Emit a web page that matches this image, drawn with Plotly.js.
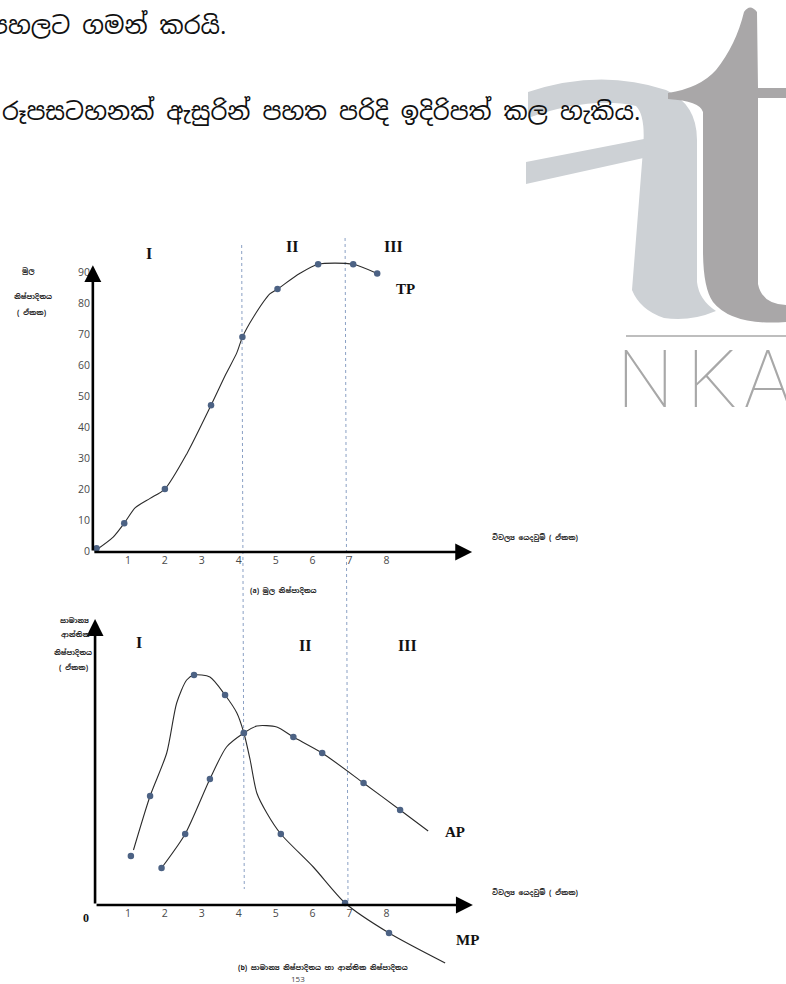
<!DOCTYPE html>
<html>
<head>
<meta charset="utf-8">
<script src="https://cdn.plot.ly/plotly-3.0.1.min.js"></script>
<style>
html,body{margin:0;padding:0;background:#fff;}
#chart{width:786px;height:984px;}
</style>
</head>
<body>
<div id="chart"></div>
<script>
// ---------------- DATA ----------------
// (a) Total product curve (input units vs output units)
const tpCurveX = [0.1, 0.6, 0.9, 1.2, 1.6, 2.0, 2.6, 3.25, 3.65, 3.95, 4.1, 4.4, 4.85, 5.05, 5.65, 6.15, 7.1, 7.75];
const tpCurveY = [0, 4.5, 9, 14, 17, 20, 31.5, 47, 57, 64, 69, 75.5, 83, 84.5, 89.5, 92.5, 92.5, 89.5];
const tpPointX = [0.15, 0.9, 2.0, 3.25, 4.1, 5.05, 6.15, 7.1, 7.75];
const tpPointY = [0.9, 9, 20, 47, 69, 84.5, 92.5, 92.5, 89.5];

// (b) Marginal product
const mpCurveX = [1.15, 1.6, 2.05, 2.32, 2.59, 2.79, 3.22, 3.63, 3.95, 4.14, 4.31, 4.49, 4.76, 5.14, 6.02, 6.88, 8.07, 9.59];
const mpCurveY = [5.5, 10.9, 15.2, 20.2, 22.5, 23.0, 22.8, 21.0, 19.2, 17.2, 14.5, 11.2, 9.2, 7.1, 3.8, 0.2, -2.8, -5.8];
const mpPointX = [1.08, 1.6, 2.79, 3.63, 4.14, 5.14, 6.88, 8.07];
const mpPointY = [4.9, 10.9, 23.0, 21.0, 17.2, 7.1, 0.2, -2.8];

// (b) Average product
const apCurveX = [1.91, 2.55, 3.22, 3.67, 4.14, 4.49, 5.03, 5.48, 6.26, 7.38, 8.37, 9.13];
const apCurveY = [3.7, 7.1, 12.6, 15.8, 17.2, 17.9, 17.8, 16.8, 15.2, 12.2, 9.5, 7.4];
const apPointX = [1.91, 2.55, 3.22, 4.14, 5.48, 6.26, 7.38, 8.37];
const apPointY = [3.7, 7.1, 12.6, 17.2, 16.8, 15.2, 12.2, 9.5];

// stage boundaries (input units)
const stageBoundTop = [4.08, 6.88];
const stageBoundBottom = [4.15, 6.96];

// tick labels
const tpTicks = [0, 10, 20, 30, 40, 50, 60, 70, 80, 90];
const inputTicks = [1, 2, 3, 4, 5, 6, 7, 8];
const stageLabels = ['I', 'II', 'III'];

// ---------------- LAYOUT HELPERS ----------------
const W = 786, H = 984;
const fx = p => p / W;
const fy = p => 1 - p / H;
const pathPx = s => s.replace(/(-?\d+\.?\d*),(-?\d+\.?\d*)/g,
  (m, a, b) => (a / W).toFixed(5) + ',' + (1 - b / H).toFixed(5));

const SIN = 'Noto Sans Sinhala, Noto Serif Sinhala, Iskoola Pota, Noto Sans, sans-serif';
const SERIF = 'Liberation Serif, DejaVu Serif, serif';
const TICKF = {family: 'Open Sans, Liberation Sans, sans-serif', size: 10.5, color: '#4a4a4a'};

const curveLine = {color: '#2b2b2b', width: 1.1, shape: 'spline', smoothing: 0.7};
const markerStyle = {color: '#4c6284', size: 6.5};

const traces = [
  {x: tpCurveX, y: tpCurveY, xaxis: 'x', yaxis: 'y', mode: 'lines', line: curveLine, cliponaxis: false, hoverinfo: 'skip'},
  {x: tpPointX, y: tpPointY, xaxis: 'x', yaxis: 'y', mode: 'markers', marker: markerStyle, cliponaxis: false},
  {x: mpCurveX, y: mpCurveY, xaxis: 'x2', yaxis: 'y2', mode: 'lines', line: curveLine, cliponaxis: false, hoverinfo: 'skip'},
  {x: mpPointX, y: mpPointY, xaxis: 'x2', yaxis: 'y2', mode: 'markers', marker: markerStyle, cliponaxis: false},
  {x: apCurveX, y: apCurveY, xaxis: 'x2', yaxis: 'y2', mode: 'lines', line: curveLine, cliponaxis: false, hoverinfo: 'skip'},
  {x: apPointX, y: apPointY, xaxis: 'x2', yaxis: 'y2', mode: 'markers', marker: markerStyle, cliponaxis: false}
];

const xDom = [fx(91), fx(91 + 36.93 * 10.5)];
const baseAxis = {showgrid: false, zeroline: false, showline: false, ticks: '', tickfont: TICKF, fixedrange: true};

const layout = {
  width: W, height: H,
  margin: {l: 0, r: 0, t: 0, b: 0},
  paper_bgcolor: '#ffffff',
  plot_bgcolor: 'rgba(0,0,0,0)',
  showlegend: false,
  xaxis: Object.assign({}, baseAxis, {domain: xDom, range: [0, 10.5], anchor: 'y',
    tickmode: 'array', tickvals: inputTicks, ticktext: inputTicks.map(String)}),
  yaxis: Object.assign({}, baseAxis, {domain: [fy(552), fy(241)], range: [-0.3, 100], anchor: 'x',
    tickmode: 'array', tickvals: tpTicks, ticktext: tpTicks.map(String)}),
  xaxis2: Object.assign({}, baseAxis, {domain: xDom, range: [0, 10.5], anchor: 'free', position: fy(905),
    tickmode: 'array', tickvals: inputTicks, ticktext: inputTicks.map(String)}),
  yaxis2: Object.assign({}, baseAxis, {domain: [fy(975), fy(605)], range: [-7, 30], anchor: 'x2',
    showticklabels: false}),
  shapes: [],
  annotations: []
};

// stage boundary lines spanning both panels
const vLine = {color: '#8aa0c4', width: 1, dash: 'dot'};
layout.shapes.push({type: 'line', xref: 'x', yref: 'paper', x0: stageBoundTop[0], x1: stageBoundBottom[0], y0: fy(245), y1: fy(889), line: vLine, layer: 'below'});
layout.shapes.push({type: 'line', xref: 'x', yref: 'paper', x0: stageBoundTop[1], x1: stageBoundBottom[1], y0: fy(238), y1: fy(905), line: vLine, layer: 'below'});

// watermark logo
layout.shapes.push({type: 'path', xref: 'paper', yref: 'paper', layer: 'below', line: {width: 0},
  fillcolor: '#cdd1d5',
  path: pathPx('M 528,92 Q 600,68 666,90 Q 697,104 697,140 L 697,282 Q 699,300 716,311 Q 690,322 664,318 Q 640,310 632,290 L 643,150 Q 646,116 636,106 Q 590,96 528,118 Z')});
layout.shapes.push({type: 'path', xref: 'paper', yref: 'paper', layer: 'below', line: {width: 0},
  fillcolor: '#cdd1d5',
  path: pathPx('M 526,162 L 644,139 L 648,157 L 526,184 Z')});
layout.shapes.push({type: 'path', xref: 'paper', yref: 'paper', layer: 'below', line: {width: 0},
  fillcolor: '#a9a7a8',
  path: pathPx('M 744,12 Q 750,3 757,12 L 758,88 L 786,88 L 786,98 L 758,98 L 758,284 Q 762,304 786,305 L 786,322 Q 732,326 713,302 Q 703,288 703,250 L 703,112 Q 700,101 668,99 L 668,93 Q 700,88 716,70 Q 736,45 744,12 Z')});
layout.shapes.push({type: 'line', xref: 'paper', yref: 'paper', x0: fx(626), x1: fx(786), y0: fy(336), y1: fy(336),
  line: {color: '#a8a8a8', width: 1.6}, layer: 'below'});

// axes with arrow heads
const arrow = (xr, yr, x, y, ax, ay) => ({xref: xr, yref: yr, axref: xr, ayref: yr, x: x, y: y, ax: ax, ay: ay,
  text: '', showarrow: true, arrowhead: 2, arrowsize: 1.3, arrowwidth: 2.6, arrowcolor: '#000'});
layout.annotations.push(arrow('x', 'y', 10.32, -0.3, 0.05, -0.3));
layout.annotations.push(arrow('x', 'y', 0.05, 92.2, 0.05, -0.3));
layout.annotations.push(arrow('x2', 'y2', 10.34, 0, 0.11, 0));
layout.annotations.push(arrow('x2', 'y2', 0.11, 28.6, 0.11, 0));

// text helper (pixel positions)
const txt = (text, x, y, font, xanchor, yanchor) => ({xref: 'paper', yref: 'paper', x: fx(x), y: fy(y),
  text: text, showarrow: false, font: font, xanchor: xanchor || 'center', yanchor: yanchor || 'middle'});

// page text (Sinhala)
layout.annotations.push(txt('පහලට ගමන් කරයි.', 229, 25, {family: SIN, size: 24, color: '#111'}, 'right'));
layout.annotations.push(txt('රූපසටහනක් ඇසුරින් පහත පරිදි ඉදිරිපත් කල හැකිය.', 642, 111, {family: SIN, size: 24, color: '#111'}, 'right'));

// logo letters
const logoF = {family: 'Roboto, Lato, Open Sans, sans-serif', size: 80, color: '#a8a8a8', weight: 100};
layout.annotations.push(txt('N', 645, 380, logoF));
layout.annotations.push(txt('K', 712, 380, logoF));
layout.annotations.push(txt('A', 768, 380, logoF));

// stage numerals
const romF = {family: SERIF, size: 16, color: '#111', weight: 'bold'};
layout.annotations.push(txt(stageLabels[0], 149, 254, romF));
layout.annotations.push(txt(stageLabels[1], 292, 246, romF));
layout.annotations.push(txt(stageLabels[2], 393, 246, romF));
layout.annotations.push(txt(stageLabels[0], 139, 642, romF));
layout.annotations.push(txt(stageLabels[1], 305, 645, romF));
layout.annotations.push(txt(stageLabels[2], 407, 645, romF));

// curve names
const curF = {family: SERIF, size: 15, color: '#111', weight: 'bold'};
layout.annotations.push(txt('TP', 405, 289, curF));
layout.annotations.push(txt('AP', 455, 832, curF));
layout.annotations.push(txt('MP', 467, 940, curF));

// axis titles and captions
const smallF = {family: SIN, size: 7, color: '#222', weight: 'bold'};
layout.annotations.push(txt('මූල', 28, 270, smallF));
layout.annotations.push(txt('නිෂ්පාදිතය', 33, 297, smallF));
layout.annotations.push(txt('( ඒකක)', 32, 312, smallF));
layout.annotations.push(txt('විචල්‍ය යෙදවුම් ( ඒකක)', 535, 537, smallF));
layout.annotations.push(txt('(a) මූල නිෂ්පාදිතය', 283, 590, smallF));

layout.annotations.push(txt('සාමාන්‍ය', 74, 620, smallF));
layout.annotations.push(txt('ආන්තික', 75, 634, smallF));
layout.annotations.push(txt('නිෂ්පාදිතය', 73, 652, smallF));
layout.annotations.push(txt('( ඒකක)', 74, 667, smallF));
layout.annotations.push(txt('විචල්‍ය යෙදවුම් ( ඒකක)', 535, 892, smallF));
layout.annotations.push(txt('(b) සාමාන්‍ය නිෂ්පාදිතය හා ආන්තික නිෂ්පාදිතය', 323, 967, smallF));
layout.annotations.push(txt('153', 298, 978, {family: 'Open Sans, sans-serif', size: 8, color: '#444'}));
layout.annotations.push(txt('0', 86, 918, {family: SERIF, size: 12, color: '#111', weight: 'bold'}));

Plotly.newPlot('chart', traces, layout, {staticPlot: true, displayModeBar: false});
</script>
</body>
</html>
